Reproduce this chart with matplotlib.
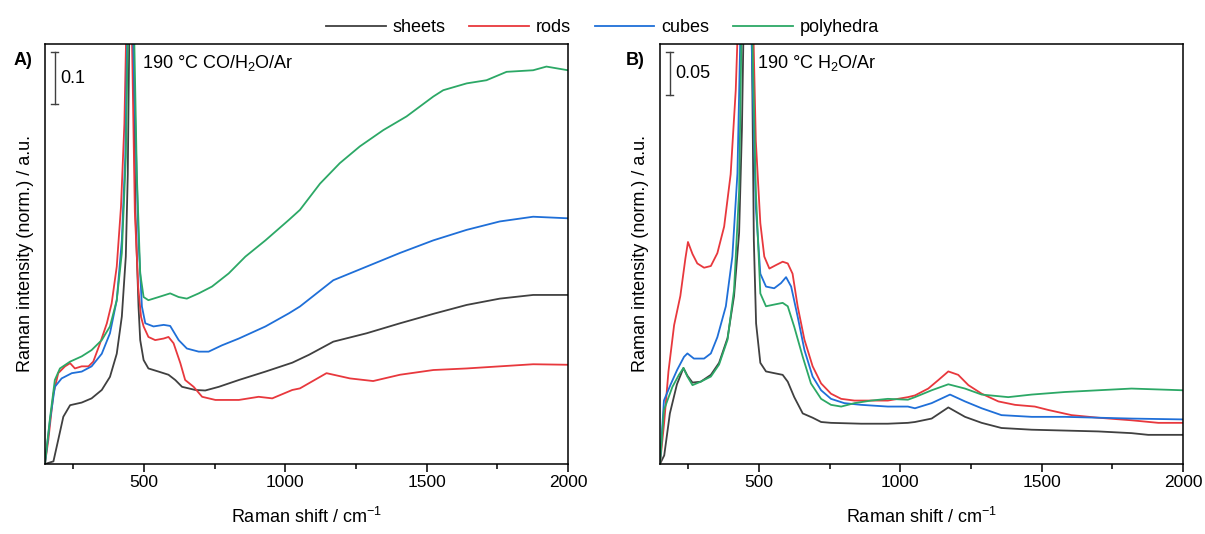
import numpy as np
import matplotlib
matplotlib.use('Agg')
import matplotlib.pyplot as plt
from matplotlib.ticker import MultipleLocator

plt.rcParams['font.family'] = ['Liberation Sans', 'DejaVu Sans']
plt.rcParams['mathtext.fontset'] = 'custom'
plt.rcParams['mathtext.rm'] = 'Liberation Sans'
plt.rcParams['mathtext.it'] = 'Liberation Sans:italic'
plt.rcParams['font.size'] = 12.5

# ######################################################
# data (Raman shift / cm-1, normalised intensity)
# ######################################################
labels = ['sheets', 'rods', 'cubes', 'polyhedra']
colors = ['#404040', '#e8383d', '#1f6fd8', '#2ca866']

# panel A : 190 C CO/H2O/Ar
a_sheets_x = [150, 180, 197, 215, 239, 280, 315, 351, 380, 404, 422, 436, 443, 448, 453, 462, 470, 481, 487, 499,
              516, 552, 587, 611, 635, 682, 717, 765, 836, 930, 1025, 1084, 1170, 1288, 1406, 1524, 1642, 1759, 1877, 2000]
a_sheets_y = [0.0, 0.005, 0.046, 0.090, 0.112, 0.117, 0.125, 0.141, 0.166, 0.210, 0.281, 0.395, 0.552, 0.80, 1.12, 0.80,
              0.48, 0.300, 0.236, 0.198, 0.182, 0.176, 0.170, 0.160, 0.147, 0.141, 0.140, 0.147, 0.160, 0.176, 0.193,
              0.208, 0.233, 0.249, 0.268, 0.286, 0.303, 0.315, 0.322, 0.322]

a_rods_x = [150, 162, 180, 197, 221, 239, 256, 280, 304, 321, 345, 369, 386, 404, 419, 431, 437, 447, 458, 468, 480,
            490, 499, 516, 540, 570, 587, 605, 629, 646, 676, 706, 753, 836, 906, 954, 1025, 1052, 1146, 1229, 1311,
            1406, 1524, 1642, 1759, 1877, 2000]
a_rods_y = [0.0, 0.046, 0.134, 0.173, 0.186, 0.192, 0.182, 0.186, 0.186, 0.195, 0.230, 0.268, 0.306, 0.376, 0.490,
            0.648, 0.808, 1.12, 0.808, 0.48, 0.336, 0.280, 0.262, 0.242, 0.236, 0.239, 0.242, 0.230, 0.192, 0.160,
            0.147, 0.128, 0.122, 0.122, 0.128, 0.125, 0.141, 0.144, 0.173, 0.163, 0.158, 0.170, 0.179, 0.182, 0.186,
            0.190, 0.189]

a_cubes_x = [150, 168, 185, 209, 245, 280, 315, 351, 380, 404, 422, 434, 441, 450, 462, 472, 481, 493, 505, 534, 570,
             593, 623, 652, 694, 729, 776, 836, 930, 1013, 1052, 1170, 1288, 1406, 1524, 1642, 1759, 1877, 2000]
a_cubes_y = [0.0, 0.084, 0.147, 0.163, 0.173, 0.176, 0.186, 0.210, 0.249, 0.312, 0.426, 0.584, 0.808, 1.12, 0.808,
             0.60, 0.426, 0.300, 0.268, 0.262, 0.265, 0.263, 0.236, 0.220, 0.214, 0.214, 0.226, 0.239, 0.262, 0.287,
             0.300, 0.350, 0.376, 0.402, 0.426, 0.446, 0.462, 0.471, 0.468]

a_poly_x = [150, 168, 185, 203, 239, 280, 315, 351, 380, 404, 422, 436, 443, 455, 466, 475, 487, 499, 516, 552, 593,
            623, 652, 694, 741, 800, 859, 930, 1013, 1052, 1123, 1193, 1264, 1347, 1429, 1524, 1559, 1642, 1712, 1783,
            1877, 1924, 2000]
a_poly_y = [0.0, 0.088, 0.160, 0.182, 0.195, 0.205, 0.217, 0.236, 0.262, 0.312, 0.402, 0.584, 0.808, 1.12, 0.808,
            0.552, 0.363, 0.318, 0.312, 0.318, 0.325, 0.318, 0.315, 0.325, 0.338, 0.363, 0.395, 0.426, 0.465, 0.484,
            0.534, 0.573, 0.605, 0.636, 0.662, 0.700, 0.712, 0.725, 0.731, 0.747, 0.750, 0.757, 0.750]

# panel B : 190 C H2O/Ar
b_sheets_x = [150, 165, 185, 210, 233, 247, 265, 294, 330, 359, 389, 412, 430, 440, 445, 460, 475, 482, 490, 505, 525,
              554, 584, 602, 625, 655, 690, 720, 755, 862, 956, 1027, 1052, 1111, 1170, 1229, 1288, 1358, 1465, 1583,
              1700, 1818, 1877, 2000]
b_sheets_y = [0.0, 0.010, 0.059, 0.093, 0.112, 0.103, 0.095, 0.096, 0.104, 0.118, 0.147, 0.196, 0.270, 0.392, 0.495,
              0.784, 0.495, 0.261, 0.164, 0.118, 0.108, 0.106, 0.104, 0.096, 0.078, 0.059, 0.054, 0.049, 0.048, 0.047,
              0.047, 0.048, 0.049, 0.053, 0.066, 0.055, 0.048, 0.042, 0.040, 0.039, 0.038, 0.036, 0.034, 0.034]

b_rods_x = [150, 165, 180, 200, 222, 240, 249, 265, 282, 306, 330, 353, 377, 400, 418, 424, 450, 481, 489, 505, 519,
            537, 560, 584, 602, 619, 637, 661, 690, 720, 755, 791, 838, 897, 956, 1027, 1052, 1099, 1135, 1170, 1205,
            1241, 1288, 1347, 1406, 1476, 1524, 1606, 1700, 1818, 1913, 2000]
b_rods_y = [0.0, 0.049, 0.108, 0.162, 0.196, 0.240, 0.259, 0.245, 0.234, 0.229, 0.231, 0.246, 0.277, 0.338, 0.436,
            0.495, 0.784, 0.495, 0.377, 0.281, 0.242, 0.228, 0.232, 0.236, 0.234, 0.222, 0.184, 0.145, 0.114, 0.094,
            0.082, 0.076, 0.074, 0.074, 0.074, 0.078, 0.080, 0.088, 0.098, 0.108, 0.104, 0.092, 0.082, 0.073, 0.069,
            0.067, 0.063, 0.057, 0.054, 0.051, 0.048, 0.048]

b_cubes_x = [150, 164, 188, 211, 235, 247, 270, 306, 330, 353, 383, 406, 424, 434, 452, 474, 489, 505, 525, 554, 578,
             596, 614, 637, 661, 690, 720, 755, 802, 862, 956, 1027, 1052, 1111, 1176, 1229, 1288, 1358, 1465, 1583,
             1700, 1818, 2000]
b_cubes_y = [0.0, 0.074, 0.093, 0.110, 0.125, 0.129, 0.123, 0.123, 0.129, 0.148, 0.184, 0.242, 0.339, 0.495, 0.784,
             0.495, 0.300, 0.222, 0.207, 0.205, 0.211, 0.218, 0.207, 0.172, 0.133, 0.102, 0.086, 0.076, 0.071, 0.069,
             0.067, 0.067, 0.065, 0.071, 0.081, 0.073, 0.065, 0.057, 0.055, 0.055, 0.054, 0.053, 0.052]

b_poly_x = [150, 164, 194, 217, 233, 247, 265, 294, 330, 359, 389, 412, 430, 438, 455, 477, 489, 505, 525, 554, 584,
            602, 625, 655, 684, 720, 755, 791, 838, 897, 956, 1027, 1052, 1111, 1170, 1229, 1288, 1382, 1465, 1583,
            1700, 1818, 2000]
b_poly_y = [0.0, 0.063, 0.090, 0.104, 0.112, 0.102, 0.092, 0.096, 0.102, 0.116, 0.145, 0.203, 0.319, 0.495, 0.784,
            0.495, 0.319, 0.199, 0.184, 0.186, 0.188, 0.184, 0.160, 0.125, 0.094, 0.076, 0.069, 0.067, 0.071, 0.074,
            0.076, 0.075, 0.078, 0.086, 0.093, 0.088, 0.081, 0.078, 0.081, 0.084, 0.086, 0.088, 0.086]

panel_a = [(a_sheets_x, a_sheets_y), (a_rods_x, a_rods_y), (a_cubes_x, a_cubes_y), (a_poly_x, a_poly_y)]
panel_b = [(b_sheets_x, b_sheets_y), (b_rods_x, b_rods_y), (b_cubes_x, b_cubes_y), (b_poly_x, b_poly_y)]


def setup_axes(ax, ymax):
    ax.set_xlim(150, 2000)
    ax.set_ylim(0, ymax)
    ax.xaxis.set_major_locator(MultipleLocator(500))
    ax.xaxis.set_minor_locator(MultipleLocator(250))
    ax.tick_params(axis='x', which='major', direction='out', length=6, width=1.1, labelsize=12.5, pad=2)
    ax.tick_params(axis='x', which='minor', direction='out', length=3.5, width=1.1)
    ax.set_yticks([])
    for s in ax.spines.values():
        s.set_linewidth(1.1)
    ax.set_xlabel('Raman shift / cm$^{\\mathregular{-1}}$', fontsize=13, labelpad=12)
    ax.set_ylabel('Raman intensity (norm.) / a.u.', fontsize=13, labelpad=8)


def scale_bar(ax, y0, length, text):
    # vertical bar with small caps, drawn in data units
    xb = 185
    ax.plot([xb, xb], [y0, y0 + length], color='#404040', lw=1.0)
    ax.plot([xb - 12, xb + 12], [y0, y0], color='#404040', lw=1.0)
    ax.plot([xb - 12, xb + 12], [y0 + length, y0 + length], color='#404040', lw=1.0)
    ax.text(xb + 20, y0 + length / 2, text, fontsize=13, va='center', ha='left')


fig = plt.figure(figsize=(12.05, 5.34), dpi=100)
axA = fig.add_axes([0.0373, 0.1311, 0.4340, 0.7865])
axB = fig.add_axes([0.5477, 0.1311, 0.4340, 0.7865])

for (x, y), c, lab in zip(panel_a, colors, labels):
    axA.plot(x, y, color=c, lw=1.3, label=lab)
for (x, y), c, lab in zip(panel_b, colors, labels):
    axB.plot(x, y, color=c, lw=1.3)

setup_axes(axA, 0.80)
setup_axes(axB, 0.49)

scale_bar(axA, 0.685, 0.1, '0.1')
scale_bar(axB, 0.431, 0.05, '0.05')

axA.text(0.185, 0.978, '190 °C CO/H$_2$O/Ar', transform=axA.transAxes, fontsize=13, va='top')
axB.text(0.185, 0.978, '190 °C H$_2$O/Ar', transform=axB.transAxes, fontsize=13, va='top')

fig.text(0.011, 0.878, 'A)', fontsize=13, fontweight='bold')
fig.text(0.519, 0.878, 'B)', fontsize=13, fontweight='bold')

fig.legend(loc='upper center', bbox_to_anchor=(0.5, 0.995), ncol=4, frameon=False,
           handlelength=3.3, columnspacing=1.3, handletextpad=0.4, fontsize=13)

plt.savefig('out.png', dpi=100)
